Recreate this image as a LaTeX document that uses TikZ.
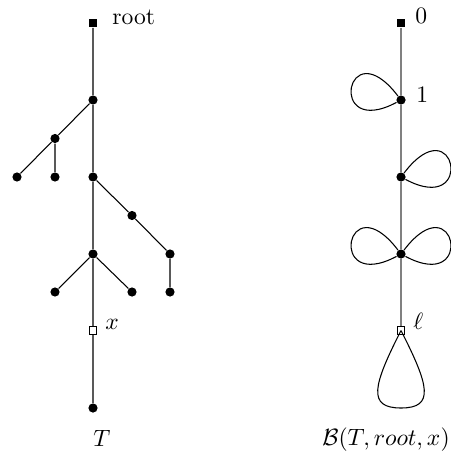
\documentclass[tikz,border=0pt]{standalone}
\usepackage{amsmath}
\begin{document}
\begin{tikzpicture}[x=0.424pt,y=-0.424pt,
  dotnode/.style={circle,fill=black,inner sep=0pt,minimum size=3.9pt},
  sqfill/.style={rectangle,fill=black,inner sep=0pt,minimum size=3.8pt},
  sqopen/.style={rectangle,draw=black,fill=white,line width=0.4pt,inner sep=0pt,minimum size=3.3pt},
  edge/.style={draw=black,line width=0.45pt},
  spine/.style={draw=black!50,line width=0.65pt},
  loopline/.style={draw=black,line width=0.45pt},
  lbl/.style={inner sep=0pt,anchor=base west}]
\useasboundingbox (0,0) rectangle (450,452);
% left tree
\node[sqfill] (r) at (93,23) {};
\node[dotnode] (a) at (93,100) {};
\node[dotnode] (b) at (55,138.5) {};
\node[dotnode] (c) at (17,177) {};
\node[dotnode] (d) at (55,177) {};
\node[dotnode] (e) at (93,177) {};
\node[dotnode] (f) at (132,215.5) {};
\node[dotnode] (g) at (170,254) {};
\node[dotnode] (h) at (170,292) {};
\node[dotnode] (i) at (93,254) {};
\node[dotnode] (j) at (55,292) {};
\node[dotnode] (k) at (132,292) {};
\node[sqopen] (x) at (93,330.5) {};
\node[dotnode] (m) at (93,408) {};
\path[edge] (r) -- (a) (a) -- (b) (b) -- (c) (b) -- (d) (a) -- (e)
  (e) -- (f) (f) -- (g) (g) -- (h) (e) -- (i) (i) -- (j) (i) -- (k)
  (i) -- (x) (x) -- (m);
\node[lbl] (lroot) at (112,25) {root};
\node[lbl] (lx) at (105,329) {$x$};
\node[lbl] (lT) at (93,446) {$T$};
% right graph
\node[sqfill] (r0) at (401,23) {};
\node[dotnode] (n1) at (401,100) {};
\node[dotnode] (n2) at (401,177) {};
\node[dotnode] (n3) at (401,254) {};
\node[sqopen] (l) at (401,330.5) {};
\coordinate (lb) at (401,408);
\path[spine] (r0) -- (n1) (n1) -- (n2) (n2) -- (n3) (n3) -- (l);
\path[loopline] (n1) .. controls +(-55,-72) and +(-75,40) .. (n1);
\path[loopline] (n2) .. controls +(55,-72) and +(75,40) .. (n2);
\path[loopline] (n3) .. controls +(-55,-72) and +(-75,40) .. (n3);
\path[loopline] (n3) .. controls +(55,-72) and +(75,40) .. (n3);
\path[loopline] (l.center) .. controls +(28,55) and +(34,0) .. (lb)
  .. controls +(-34,0) and +(-28,55) .. (l.center);
\node[lbl] (l0) at (415,23) {$0$};
\node[lbl] (l1) at (416,102) {$1$};
\node[lbl] (lell) at (413,329) {$\ell$};
\node[inner sep=0pt,anchor=base] (lB) at (386,445) {$\mathcal{B}(T,root,x)$};
\end{tikzpicture}
\end{document}
